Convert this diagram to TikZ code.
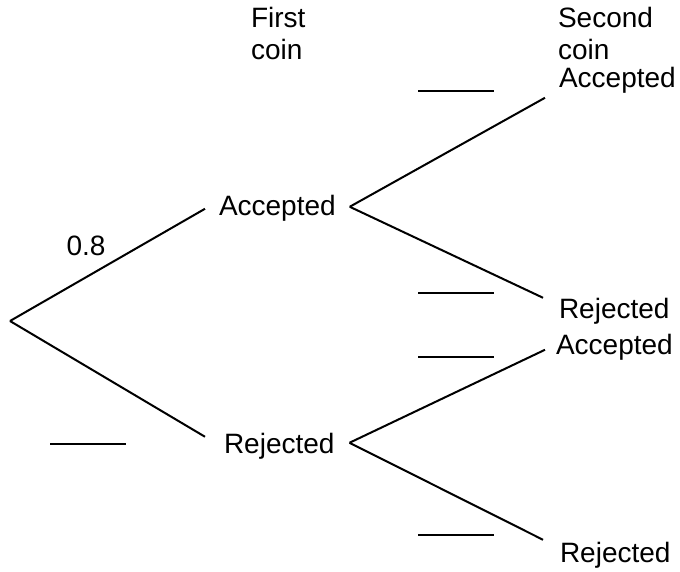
\documentclass[tikz,border=0pt]{standalone}
\usepackage{fontspec}
\setmainfont{Liberation Sans}
\begin{document}
\begin{tikzpicture}[x=1pt, y=-1pt, line width=2pt,
        lbl/.style={anchor=base west, inner sep=0pt, font=\fontsize{28}{34}\selectfont}]
        \useasboundingbox (0,0) rectangle (680,571);
        % Headings
        \node[lbl] at (250, 27) (first)  {First};
        \node[lbl] at (250, 59) (coina)  {coin};
        \node[lbl] at (557, 27) (second) {Second};
        \node[lbl] at (557, 59) (coinb)  {coin};

        % Nodes
        \coordinate (root) at (10, 321);
        \node[lbl] at (218, 215) (acc)   {Accepted};
        \node[lbl] at (223, 453) (rej)   {Rejected};
        \node[lbl] at (558, 87)  (accacc) {Accepted};
        \node[lbl] at (558, 318) (accrej) {Rejected};
        \node[lbl] at (555, 354) (rejacc) {Accepted};
        \node[lbl] at (559, 562) (rejrej) {Rejected};

        \draw (root) -- ([shift={(-13,1)}]acc.west);
        \draw (root) -- ([shift={(-18,-9)}]rej.west);

        \draw ([shift={(13,-1)}]acc.east) -- ([shift={(-13,18)}]accacc.west);
        \draw ([shift={(13,-1)}]acc.east) -- ([shift={(-15,-13)}]accrej.west);

        \draw ([shift={(14,-3)}]rej.east) -- ([shift={(-10,3)}]rejacc.west);
        \draw ([shift={(14,-3)}]rej.east) -- ([shift={(-16,-15)}]rejrej.west);

        % Probabilities
        \node[font=\fontsize{28}{34}\selectfont, inner sep=0pt] at (86, 246) (p) {0.8};
        \draw (418, 91)  -- ++(76, 0);
        \draw (418, 293) -- ++(76, 0);
        \draw (418, 357) -- ++(76, 0);
        \draw (418, 535) -- ++(76, 0);
        \draw (50, 444)  -- ++(76, 0);
\end{tikzpicture}
\end{document}
